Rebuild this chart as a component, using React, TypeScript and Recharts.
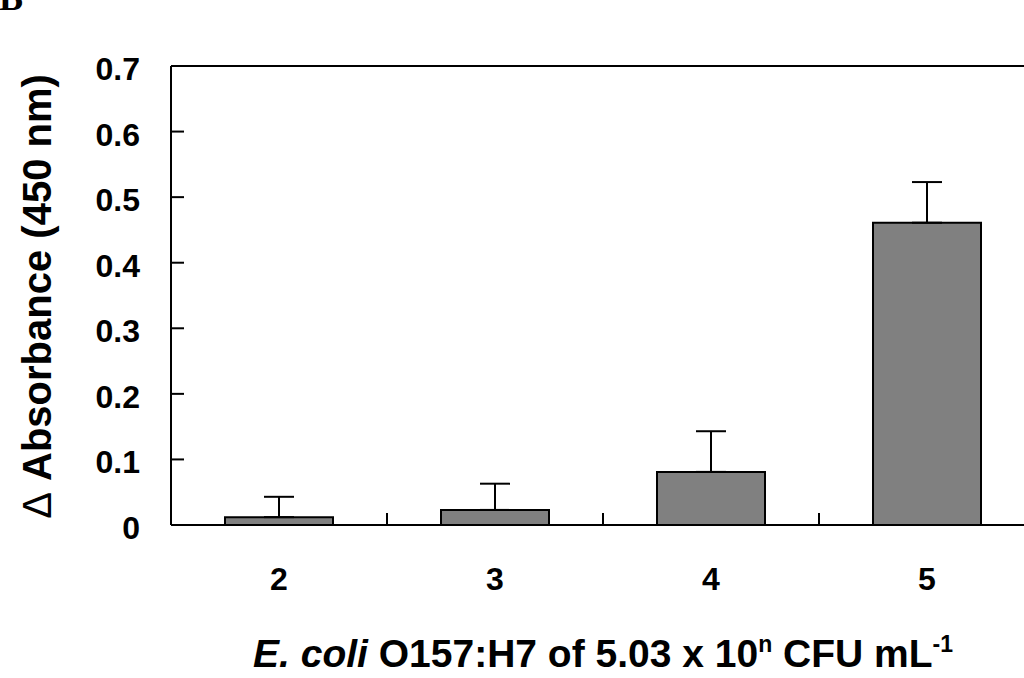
import React from "react";
import {
  BarChart,
  Bar,
  XAxis,
  YAxis,
  ErrorBar,
  ReferenceLine,
} from "recharts";

// E. coli O157:H7 concentration exponent (5.03 x 10^n CFU/mL)
const categories = ["2", "3", "4", "5"];
const absorbance = [0.012, 0.023, 0.081, 0.461];
const stdDev = [0.031, 0.04, 0.062, 0.062];
const yTicks = [0, 0.1, 0.2, 0.3, 0.4, 0.5, 0.6, 0.7];

const data = categories.map((n, i) => ({
  n,
  value: absorbance[i],
  err: [0, stdDev[i]],
}));

const CHART_W = 1060;
const CHART_H = 678;
const MARGIN = { top: 66, right: 25, left: 0, bottom: 0 };
const Y_W = 171;
const X_H = 153;
const BAND = (CHART_W - MARGIN.left - MARGIN.right - Y_W) / categories.length;
const FONT = "'Liberation Sans', Arial, Helvetica, sans-serif";
const Y_TICK_GAP = 31;

const YTick = ({ x, y, payload }: any) => {
  const axisX = x + Y_TICK_GAP;
  const v = payload.value;
  return (
    <g>
      <line x1={axisX} y1={y} x2={axisX + 13} y2={y} stroke="#000" strokeWidth={2} />
      <text
        x={x}
        y={y + 3}
        textAnchor="end"
        dominantBaseline="central"
        fontFamily={FONT}
        fontWeight="bold"
        fontSize={32}
        fill="#000"
      >
        {v === 0 ? "0" : v.toFixed(1)}
      </text>
    </g>
  );
};

const XTick = ({ x, y, payload }: any) => {
  const edge = x + BAND / 2;
  return (
    <g>
      <line x1={edge} y1={y} x2={edge} y2={y - 12} stroke="#000" strokeWidth={2} />
      <text
        x={x}
        y={y + 65}
        textAnchor="middle"
        fontFamily={FONT}
        fontWeight="bold"
        fontSize={32}
        fill="#000"
      >
        {payload.value}
      </text>
    </g>
  );
};

const XTitle = ({ viewBox }: any) => {
  const cx = viewBox.x + viewBox.width / 2;
  return (
    <text
      x={cx}
      y={viewBox.y + 142}
      textAnchor="middle"
      fontFamily={FONT}
      fontWeight="bold"
      fontSize={39}
      fill="#000"
    >
      <tspan fontStyle="italic">E. coli</tspan>
      <tspan> O157:H7 of 5.03 x 10</tspan>
      <tspan dy={-15} fontSize={23}>n</tspan>
      <tspan dy={15}> CFU mL</tspan>
      <tspan dy={-15} fontSize={23}>-1</tspan>
    </text>
  );
};

const YTitle = ({ viewBox }: any) => {
  const cx = 51;
  const cy = viewBox.y + viewBox.height / 2 + 1;
  return (
    <text
      x={cx}
      y={cy}
      transform={`rotate(-90, ${cx}, ${cy})`}
      textAnchor="middle"
      fontFamily={FONT}
      fontWeight="bold"
      fontSize={40}
      fill="#000"
    >
      <tspan fontWeight="normal">Δ</tspan>
      <tspan> Absorbance (450 nm)</tspan>
    </text>
  );
};

export default function App() {
  return (
    <div
      style={{
        position: "absolute",
        left: 0,
        top: 0,
        width: 1024,
        height: 678,
        overflow: "hidden",
        background: "#fff",
      }}
    >
      <svg
        width={60}
        height={30}
        style={{ position: "absolute", left: 0, top: 0 }}
      >
        <text
          x={-1}
          y={10}
          fontFamily="'Liberation Serif', 'Times New Roman', serif"
          fontWeight="bold"
          fontSize={36}
          fill="#000"
        >
          B
        </text>
      </svg>
      <BarChart
        width={CHART_W}
        height={CHART_H}
        data={data}
        margin={MARGIN}
        barCategoryGap="25%"
      >
        <XAxis
          dataKey="n"
          height={X_H}
          tickLine={false}
          tickSize={0}
          tickMargin={0}
          axisLine={{ stroke: "#000", strokeWidth: 2 }}
          tick={<XTick />}
          interval={0}
          label={{ content: <XTitle /> }}
        />
        <YAxis
          width={Y_W}
          domain={[0, 0.7]}
          ticks={yTicks}
          tickLine={false}
          tickSize={0}
          tickMargin={Y_TICK_GAP}
          axisLine={{ stroke: "#000", strokeWidth: 2 }}
          tick={<YTick />}
          interval={0}
          label={{ content: <YTitle /> }}
        />
        <ReferenceLine y={0.7} stroke="#000" strokeWidth={2} />
        <Bar
          dataKey="value"
          fill="#808080"
          stroke="#000"
          strokeWidth={2}
          isAnimationActive={false}
        >
          <ErrorBar
            dataKey="err"
            direction="y"
            width={15}
            stroke="#000"
            strokeWidth={2}
            isAnimationActive={false}
          />
        </Bar>
      </BarChart>
    </div>
  );
}
